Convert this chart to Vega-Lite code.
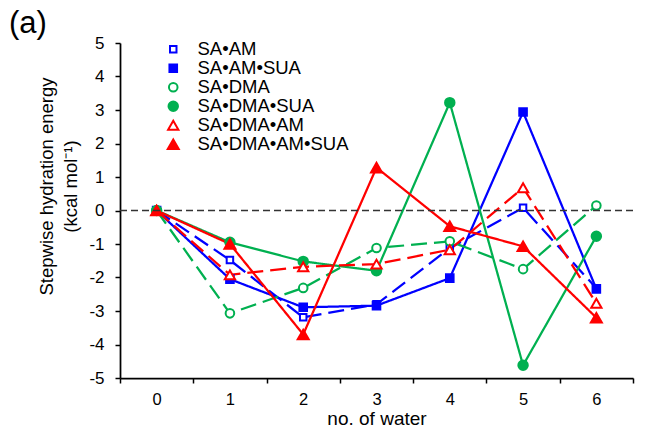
{
  "$schema": "https://vega.github.io/schema/vega-lite/v6.json",
  "width": 513,
  "height": 335,
  "autosize": "none",
  "padding": {"left": 120, "top": 43, "right": 19, "bottom": 55},
  "background": "white",
  "title": {"text": "(a)", "anchor": "start", "frame": "group", "orient": "top", "dx": -111, "dy": 38, "offset": 8, "fontSize": 31, "font": "Liberation Sans", "fontWeight": "normal", "color": "black", "baseline": "alphabetic"},
  "data": {"values": [
    {"series": "SA•AM", "n": 0, "v": 0}, {"series": "SA•AM", "n": 1, "v": -1.48}, {"series": "SA•AM", "n": 2, "v": -3.19}, {"series": "SA•AM", "n": 3, "v": -2.8}, {"series": "SA•AM", "n": 4, "v": -1.12}, {"series": "SA•AM", "n": 5, "v": 0.08}, {"series": "SA•AM", "n": 6, "v": -2.32},
    {"series": "SA•AM•SUA", "n": 0, "v": 0}, {"series": "SA•AM•SUA", "n": 1, "v": -2.05}, {"series": "SA•AM•SUA", "n": 2, "v": -2.89}, {"series": "SA•AM•SUA", "n": 3, "v": -2.84}, {"series": "SA•AM•SUA", "n": 4, "v": -2.02}, {"series": "SA•AM•SUA", "n": 5, "v": 2.94}, {"series": "SA•AM•SUA", "n": 6, "v": -2.34},
    {"series": "SA•DMA", "n": 0, "v": 0}, {"series": "SA•DMA", "n": 1, "v": -3.07}, {"series": "SA•DMA", "n": 2, "v": -2.31}, {"series": "SA•DMA", "n": 3, "v": -1.12}, {"series": "SA•DMA", "n": 4, "v": -0.92}, {"series": "SA•DMA", "n": 5, "v": -1.75}, {"series": "SA•DMA", "n": 6, "v": 0.15},
    {"series": "SA•DMA•SUA", "n": 0, "v": 0}, {"series": "SA•DMA•SUA", "n": 1, "v": -0.95}, {"series": "SA•DMA•SUA", "n": 2, "v": -1.52}, {"series": "SA•DMA•SUA", "n": 3, "v": -1.8}, {"series": "SA•DMA•SUA", "n": 4, "v": 3.22}, {"series": "SA•DMA•SUA", "n": 5, "v": -4.62}, {"series": "SA•DMA•SUA", "n": 6, "v": -0.77},
    {"series": "SA•DMA•AM", "n": 0, "v": 0}, {"series": "SA•DMA•AM", "n": 1, "v": -1.92}, {"series": "SA•DMA•AM", "n": 2, "v": -1.68}, {"series": "SA•DMA•AM", "n": 3, "v": -1.6}, {"series": "SA•DMA•AM", "n": 4, "v": -1.17}, {"series": "SA•DMA•AM", "n": 5, "v": 0.68}, {"series": "SA•DMA•AM", "n": 6, "v": -2.77},
    {"series": "SA•DMA•AM•SUA", "n": 0, "v": 0}, {"series": "SA•DMA•AM•SUA", "n": 1, "v": -1.0}, {"series": "SA•DMA•AM•SUA", "n": 2, "v": -3.7}, {"series": "SA•DMA•AM•SUA", "n": 3, "v": 1.28}, {"series": "SA•DMA•AM•SUA", "n": 4, "v": -0.47}, {"series": "SA•DMA•AM•SUA", "n": 5, "v": -1.07}, {"series": "SA•DMA•AM•SUA", "n": 6, "v": -3.2}
  ]},
  "layer": [
    {
      "mark": {"type": "line", "strokeWidth": 2.25},
      "encoding": {
        "x": {"field": "n", "type": "ordinal", "bandPosition": 0.5,
          "scale": {"type": "band", "paddingInner": 0, "paddingOuter": 0},
          "axis": {"labelAngle": 0, "title": "no. of water", "tickBand": "extent", "grid": false, "tickSize": 5, "labelPadding": 8, "labelFontSize": 16.5, "titleY": 46, "titleBaseline": "alphabetic", "titleFontSize": 19}},
        "y": {"field": "v", "type": "quantitative",
          "scale": {"domain": [-5, 5], "nice": false, "zero": false},
          "axis": {"values": [-5, -4, -3, -2, -1, 0, 1, 2, 3, 4, 5], "labelExpr": "toString(datum.value)", "labelOverlap": false, "grid": false, "tickSize": 5, "labelPadding": 11, "labelFontSize": 17,
            "title": ["Stepwise hydration energy", "(kcal mol⁻¹)"], "titleFontSize": 18.5, "titleAngle": 270, "titleX": -83, "titleY": 143, "titleAlign": "center", "titleBaseline": "top", "titleLineHeight": 24}},
        "stroke": {"field": "series", "type": "nominal",
          "scale": {"domain": ["SA•AM", "SA•AM•SUA", "SA•DMA", "SA•DMA•SUA", "SA•DMA•AM", "SA•DMA•AM•SUA"], "range": ["#0000ff", "#0000ff", "#00b050", "#00b050", "#ff0000", "#ff0000"]},
          "legend": {"title": null, "orient": "none", "legendX": 44, "legendY": -3, "padding": 0, "symbolSize": 100, "symbolStrokeWidth": 2, "labelOffset": 15, "labelFontSize": 18.5, "labelFont": "Liberation Sans", "labelColor": "black", "rowPadding": 0}},
        "strokeDash": {"condition": {"test": "datum.series === 'SA•AM' || datum.series === 'SA•DMA' || datum.series === 'SA•DMA•AM'", "value": [16, 7]}, "value": [1, 0]}
      }
    },
    {
      "mark": {"type": "point", "filled": true, "strokeWidth": 2, "opacity": 1},
      "encoding": {
        "x": {"field": "n", "type": "ordinal", "bandPosition": 0.5,
          "scale": {"type": "band", "paddingInner": 0, "paddingOuter": 0},
          "axis": {"labelAngle": 0, "title": "no. of water", "tickBand": "extent", "grid": false, "tickSize": 5, "labelPadding": 8, "labelFontSize": 16.5, "titleY": 46, "titleBaseline": "alphabetic", "titleFontSize": 19}},
        "y": {"field": "v", "type": "quantitative",
          "scale": {"domain": [-5, 5], "nice": false, "zero": false},
          "axis": {"values": [-5, -4, -3, -2, -1, 0, 1, 2, 3, 4, 5], "labelExpr": "toString(datum.value)", "labelOverlap": false, "grid": false, "tickSize": 5, "labelPadding": 11, "labelFontSize": 17,
            "title": ["Stepwise hydration energy", "(kcal mol⁻¹)"], "titleFontSize": 18.5, "titleAngle": 270, "titleX": -83, "titleY": 143, "titleAlign": "center", "titleBaseline": "top", "titleLineHeight": 24}},
        "stroke": {"field": "series", "type": "nominal",
          "scale": {"domain": ["SA•AM", "SA•AM•SUA", "SA•DMA", "SA•DMA•SUA", "SA•DMA•AM", "SA•DMA•AM•SUA"], "range": ["#0000ff", "#0000ff", "#00b050", "#00b050", "#ff0000", "#ff0000"]},
          "legend": {"title": null, "orient": "none", "legendX": 44, "legendY": -3, "padding": 0, "symbolSize": 100, "symbolStrokeWidth": 2, "labelOffset": 15, "labelFontSize": 18.5, "labelFont": "Liberation Sans", "labelColor": "black", "rowPadding": 0}},
        "fill": {"field": "series", "type": "nominal",
          "scale": {"domain": ["SA•AM", "SA•AM•SUA", "SA•DMA", "SA•DMA•SUA", "SA•DMA•AM", "SA•DMA•AM•SUA"], "range": ["#ffffff", "#0000ff", "#ffffff", "#00b050", "#ffffff", "#ff0000"]},
          "legend": null},
        "shape": {"field": "series", "type": "nominal",
          "scale": {"domain": ["SA•AM", "SA•AM•SUA", "SA•DMA", "SA•DMA•SUA", "SA•DMA•AM", "SA•DMA•AM•SUA"], "range": ["square", "square", "circle", "circle", "triangle-up", "triangle-up"]},
          "legend": null},
        "size": {"field": "series", "type": "nominal",
          "scale": {"domain": ["SA•AM", "SA•AM•SUA", "SA•DMA", "SA•DMA•SUA", "SA•DMA•AM", "SA•DMA•AM•SUA"], "range": [42, 121, 30, 100, 81, 144]},
          "legend": null}
      }
    },
    {
      "data": {"values": [{"v": 0}]},
      "mark": {"type": "rule", "strokeDash": [7, 4], "stroke": "#333333", "strokeWidth": 1.5},
      "encoding": {
        "y": {"field": "v", "type": "quantitative",
          "scale": {"domain": [-5, 5], "nice": false, "zero": false},
          "axis": {"values": [-5, -4, -3, -2, -1, 0, 1, 2, 3, 4, 5], "labelExpr": "toString(datum.value)", "labelOverlap": false, "grid": false, "tickSize": 5, "labelPadding": 11, "labelFontSize": 17,
            "title": ["Stepwise hydration energy", "(kcal mol⁻¹)"], "titleFontSize": 18.5, "titleAngle": 270, "titleX": -83, "titleY": 143, "titleAlign": "center", "titleBaseline": "top", "titleLineHeight": 24}}
      }
    }
  ],
  "config": {
    "view": {"stroke": null},
    "axis": {"domainColor": "black", "tickColor": "black", "labelColor": "black", "titleColor": "black", "labelFont": "Liberation Sans", "titleFont": "Liberation Sans", "titleFontWeight": "normal", "domainWidth": 1.75, "tickWidth": 1.5, "labelOverlap": false}
  }
}
